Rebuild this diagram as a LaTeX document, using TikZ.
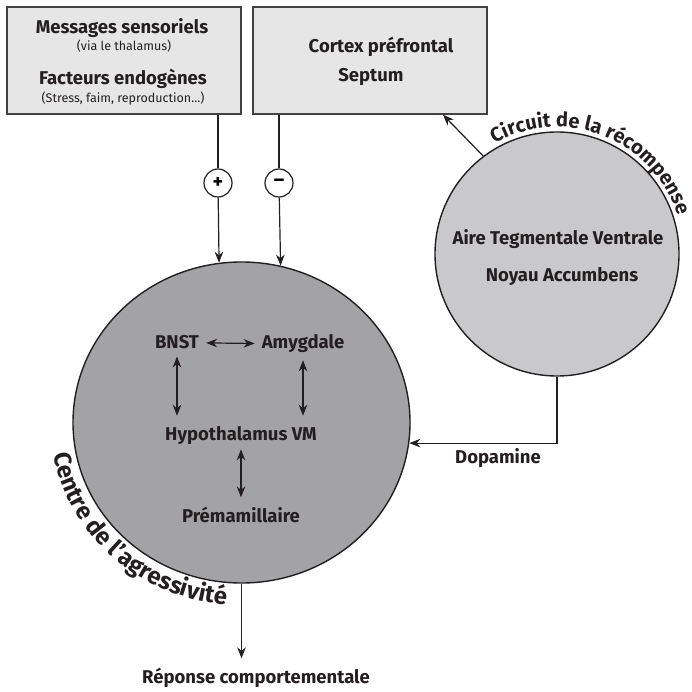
\documentclass[tikz,border=0pt]{standalone}
\usepackage{fontspec}
\setmainfont{Fira Sans}
\usetikzlibrary{shapes.geometric,decorations.text,calc,arrows.meta}
\definecolor{boxgray}{RGB}{230,230,231}
\definecolor{rewgray}{RGB}{201,201,203}
\definecolor{aggrgray}{RGB}{163,163,166}
\definecolor{ink}{RGB}{35,31,32}
\newcommand{\labfont}{\bfseries\fontsize{18.5}{20}\selectfont}
\newcommand{\smallfont}{\fontsize{12.5}{13}\selectfont}
\tikzset{
  inbox/.style={rectangle, draw=ink!85, line width=1.4pt, fill=boxgray, minimum width=234pt, minimum height=107pt},
  region/.style={draw=ink, line width=1.4pt, inner sep=0pt},
  sign/.style={circle, draw=ink, line width=1.2pt, fill=white, minimum size=28pt, inner sep=0pt, font=\bfseries\fontsize{20}{20}\selectfont},
  lab/.style={anchor=base, text=ink, inner sep=4pt, font=\labfont},
  note/.style={anchor=base, text=ink, inner sep=2pt, font=\smallfont},
  link/.style={draw=ink, line width=1.2pt, -{Stealth[length=11pt,width=8.5pt]}},
  both/.style={draw=ink, line width=1.2pt, {Stealth[length=11pt,width=8.5pt]}-{Stealth[length=11pt,width=8.5pt]}, shorten <=3pt, shorten >=3pt},
}
\begin{document}
\begin{tikzpicture}[x=1pt,y=1pt]
  \fill[white] (0,0) rectangle (692,691);
  \useasboundingbox (0,0) rectangle (692,691);

  \node[inbox] (msg) at (124,630.5) {};
  \node[inbox] (cortex) at (370,630.5) {};
  \node[lab] (msgA) at (122,657) {Messages sensoriels};
  \node[note] (msgB) at (124,640) {(via le thalamus)};
  \node[lab] (msgC) at (123,606) {Facteurs endogènes};
  \node[note] (msgD) at (123,588) {(Stress, faim, reproduction...)};
  \node[lab] (cortexA) at (381,638) {Cortex préfrontal};
  \node[lab] (cortexB) at (371,609) {Septum};

  \node[sign] (plus) at (218,508) {+};
  \node[sign] (minus) at (279,508) {–};

  \node[ellipse, region, fill=aggrgray, minimum width=337pt, minimum height=321pt] (aggr) at (241.5,268.5) {};
  \node[circle, region, fill=rewgray, minimum size=244pt] (reward) at (557,437) {};

  \node[lab] (bnst) at (177,342) {BNST};
  \node[lab] (amyg) at (303,342) {Amygdale};
  \node[lab] (hypo) at (241,251) {Hypothalamus VM};
  \node[lab] (prem) at (241,169) {Prémamillaire};
  \node[lab] (vta) at (558,446) {Aire Tegmentale Ventrale};
  \node[lab] (nacc) at (562,409) {Noyau Accumbens};
  \node[lab] (dopa) at (498,228) {Dopamine};
  \node[lab] (resp) at (256,8) {Réponse comportementale};

  \draw[both] (bnst) -- (amyg);
  \draw[both, shorten >=6pt] (bnst) -- (bnst |- hypo.north);
  \draw[both, shorten >=6pt] (amyg) -- (amyg |- hypo.north);
  \draw[both, shorten <=1pt, shorten >=5pt] (hypo) -- (prem);

  \draw[draw=ink, line width=1.2pt] (msg.south -| plus) -- (plus);
  \draw[link] (plus) -- (aggr.98.4);
  \draw[draw=ink, line width=1.2pt] (cortex.south -| minus) -- (minus);
  \draw[link] (minus) -- (aggr.76.5);

  \draw[link] (reward.127) -- ($(cortex.south west)!0.81!(cortex.south east)$);
  \draw[link] (reward.south) |- (aggr.-7.3);
  \draw[link, shorten >=5pt] (aggr.south) -- (aggr.south |- resp.north);

  \path[decorate, decoration={text along path, text align=center,
    text={|\color{ink}\bfseries\fontsize{20}{20}\selectfont|Circuit de la récompense}}]
    (reward.center) ++(150:127) arc[start angle=150, end angle=-13, radius=127];
  \path[decorate, decoration={text along path, text align=center,
    text={|\color{ink}\bfseries\fontsize{24}{24}\selectfont|Centre de l'agressivité}}]
    (aggr.center) ++(148:190.5 and 182.5) arc[start angle=148, end angle=306, x radius=190.5, y radius=182.5];
\end{tikzpicture}
\end{document}
